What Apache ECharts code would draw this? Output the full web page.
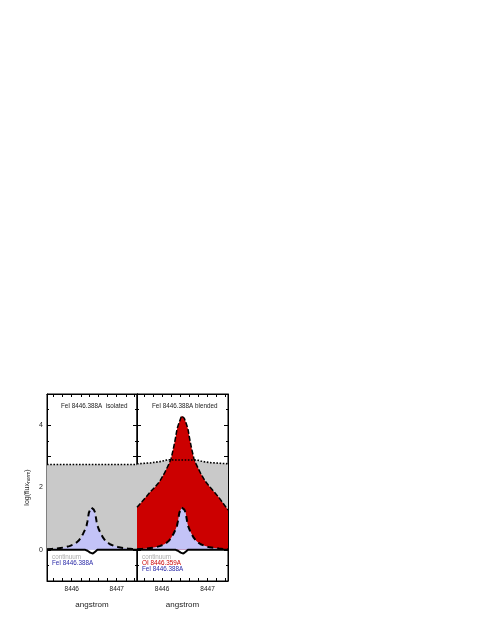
<!DOCTYPE html>
<html>
<head>
<meta charset="utf-8">
<script src="https://cdn.jsdelivr.net/npm/echarts@6/dist/echarts.min.js"></script>
<style>
html, body { margin: 0; padding: 0; background: #fff; }
#chart { width: 491px; height: 635px; }
</style>
</head>
<body>
<div id="chart"></div>
<script>
// wavelength grid (angstrom)
var wave = [8445.45, 8445.55, 8445.65, 8445.75, 8445.85, 8445.95, 8446.05, 8446.10, 8446.15, 8446.20,
            8446.25, 8446.30, 8446.33, 8446.35, 8446.38, 8446.41, 8446.43, 8446.45, 8446.47, 8446.49,
            8446.52, 8446.55, 8446.57, 8446.60, 8446.65, 8446.70, 8446.75, 8446.80, 8446.85, 8446.95,
            8447.05, 8447.15, 8447.25, 8447.35, 8447.45];
// log(flux) of the FeI 8446.388A line
var feI = [0.02, 0.03, 0.04, 0.06, 0.08, 0.12, 0.18, 0.23, 0.29, 0.38,
           0.51, 0.66, 0.78, 0.92, 1.19, 1.29, 1.36, 1.42, 1.36, 1.29,
           1.19, 0.92, 0.78, 0.66, 0.51, 0.38, 0.29, 0.23, 0.18, 0.12,
           0.08, 0.06, 0.04, 0.03, 0.02];
// OI 8446.359A (blended panel)
var oI = [1.37, 1.53, 1.70, 1.87, 2.02, 2.20, 2.45, 2.60, 2.75, 2.93,
          3.25, 3.62, 3.88, 3.97, 4.10, 4.22, 4.30, 4.33, 4.30, 4.22,
          4.10, 3.97, 3.88, 3.62, 3.25, 2.93, 2.75, 2.60, 2.45, 2.20,
          2.02, 1.85, 1.68, 1.48, 1.28];
// baseline with small absorption at line centre
var absorb = [0, 0, 0, 0, 0, 0, 0, 0, 0, 0,
              0, 0, 0, -0.03, -0.06, -0.09, -0.12, -0.15, -0.12, -0.09,
              -0.06, -0.03, 0, 0, 0, 0, 0, 0, 0, 0,
              0, 0, 0, 0, 0];
var contIsolated = [2.74, 2.74, 2.74, 2.74, 2.74, 2.74, 2.74, 2.74, 2.74, 2.74,
                    2.74, 2.74, 2.74, 2.74, 2.74, 2.74, 2.74, 2.74, 2.74, 2.74,
                    2.74, 2.74, 2.74, 2.74, 2.74, 2.74, 2.74, 2.74, 2.74, 2.74,
                    2.74, 2.74, 2.74, 2.74, 2.74];
var contBlended = [2.76, 2.77, 2.78, 2.79, 2.81, 2.83, 2.86, 2.88, 2.89, 2.89,
                   2.88, 2.88, 2.88, 2.88, 2.88, 2.88, 2.88, 2.88, 2.88, 2.88,
                   2.88, 2.88, 2.88, 2.88, 2.88, 2.89, 2.88, 2.87, 2.85, 2.82,
                   2.80, 2.79, 2.78, 2.77, 2.76];
var xLabels = [8446, 8447];
var xTicks = [8445.6, 8445.8, 8446.0, 8446.2, 8446.4, 8446.6, 8446.8, 8447.0, 8447.2, 8447.4];
var panelTitles = ['FeI 8446.388A  isolated', 'FeI 8446.388A blended'];

var FONT = 'Liberation Sans';
var GRAY = '#c9c9c9', BLUE = '#c3c3f7', RED = '#cc0000';

function pairs(ys) {
	var out = [];
	for (var i = 0; i < wave.length; i++) out.push([wave[i], ys[i]]);
	return out;
}

function xAx(grid, pos) {
	var bottom = pos == 'bottom';
	return {
		type: 'value', gridIndex: grid, position: pos, min: 8445.45, max: 8447.45,
		name: bottom ? 'angstrom' : '', nameLocation: 'middle', nameGap: 20,
		nameTextStyle: { fontFamily: FONT, fontSize: 8, color: '#222' },
		axisLine: { show: true, onZero: false, lineStyle: { color: '#000', width: 1 } },
		axisTick: { show: true, inside: true, length: 3, customValues: xTicks, lineStyle: { color: '#000' } },
		axisLabel: {
			show: bottom, customValues: xLabels, margin: 5, fontFamily: FONT, fontSize: 6.5, color: '#222',
			formatter: function (v) { return String(Math.round(v)); }
		},
		splitLine: { show: false }
	};
}

function yAx(grid, pos, labels) {
	return {
		type: 'value', gridIndex: grid, position: pos, min: -1, max: 5, interval: 1,
		name: labels ? '{a|log(flux}{s|norm}{a|)}' : '', nameLocation: 'middle', nameGap: 16,
		nameTextStyle: { rich: {
			a: { fontFamily: FONT, fontSize: 7, color: '#222' },
			s: { fontFamily: FONT, fontSize: 5, color: '#222', verticalAlign: 'bottom', padding: [3, 0, 0, 0] }
		} },
		axisLine: { show: true, onZero: false, lineStyle: { color: '#000', width: 1 } },
		axisTick: { show: true, inside: true, length: 4, lineStyle: { color: '#000' } },
		minorTick: { show: true, splitNumber: 2, length: 2, lineStyle: { color: '#000' } },
		axisLabel: {
			show: labels, margin: 4, fontFamily: FONT, fontSize: 7, color: '#222',
			formatter: function (v) { return (v % 2 === 0) ? String(v) : ''; }
		},
		splitLine: { show: false }
	};
}

function area(name, xi, ys, fill, dash, width) {
	return {
		name: name, type: 'line', xAxisIndex: xi, yAxisIndex: xi, data: pairs(ys),
		symbol: 'none', smooth: false, silent: true,
		lineStyle: { color: '#000', width: width, type: dash },
		areaStyle: { color: fill, opacity: 1 }
	};
}

function base(xi) {
	return {
		type: 'line', xAxisIndex: xi, yAxisIndex: xi, data: pairs(absorb),
		symbol: 'none', silent: true, lineStyle: { color: '#000', width: 2 }
	};
}

var chart = echarts.init(document.getElementById('chart'));

var option = {
	backgroundColor: '#fff',
	animation: false,
	grid: [
		{ left: 47, top: 394, width: 90, height: 187, show: true, borderColor: '#000', borderWidth: 1, backgroundColor: '#fff' },
		{ left: 137, top: 394, width: 91, height: 187, show: true, borderColor: '#000', borderWidth: 1, backgroundColor: '#fff' }
	],
	xAxis: [xAx(0, 'bottom'), xAx(1, 'bottom'), xAx(0, 'top'), xAx(1, 'top')],
	yAxis: [yAx(0, 'left', true), yAx(1, 'left', false), yAx(0, 'right', false), yAx(1, 'right', false)],
	series: [
		area('continuum', 0, contIsolated, GRAY, 'dotted', 1.6),
		area('FeI', 0, feI, BLUE, [6, 4], 2),
		base(0),
		area('continuum', 1, contBlended, GRAY, 'dotted', 1.6),
		area('OI', 1, oI, RED, [5, 2], 1.5),
		area('FeI', 1, feI, BLUE, [6, 4], 2),
		base(1)
	],
	graphic: [
		{ type: 'text', left: 61, top: 403, style: { text: panelTitles[0], font: '6.3px ' + FONT, fill: '#222' } },
		{ type: 'text', left: 152, top: 403, style: { text: panelTitles[1], font: '6.3px ' + FONT, fill: '#222' } },
		{ type: 'text', left: 52, top: 554, style: { text: 'continuum', font: '6.3px ' + FONT, fill: '#aaa' } },
		{ type: 'text', left: 52, top: 560, style: { text: 'FeI 8446.388A', font: '6.3px ' + FONT, fill: '#2a2aa8' } },
		{ type: 'text', left: 142, top: 554, style: { text: 'continuum', font: '6.3px ' + FONT, fill: '#aaa' } },
		{ type: 'text', left: 142, top: 560, style: { text: 'OI 8446.359A', font: '6.3px ' + FONT, fill: RED } },
		{ type: 'text', left: 142, top: 566, style: { text: 'FeI 8446.388A', font: '6.3px ' + FONT, fill: '#2a2aa8' } }
	]
};
chart.setOption(option);
</script>
</body>
</html>
